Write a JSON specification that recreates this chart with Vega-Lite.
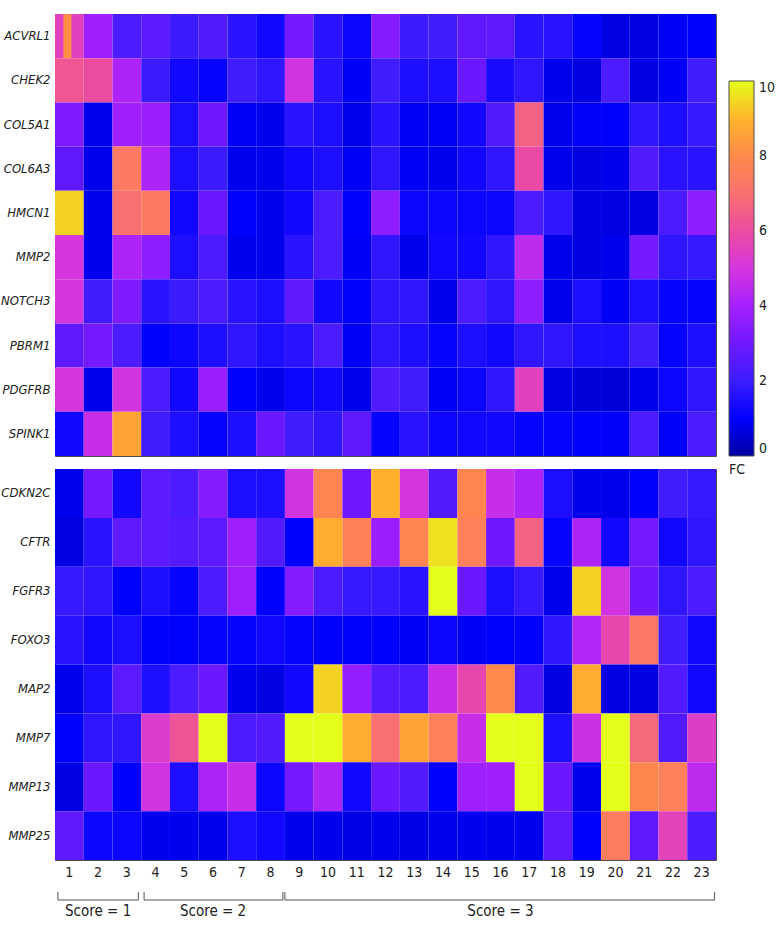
{
 "$schema": "https://vega.github.io/schema/vega-lite/v6.json",
 "padding": {"left": 0, "top": 13, "right": 5, "bottom": 5},
 "config": {
  "font": "DejaVu Sans Condensed, DejaVu Sans, sans-serif",
  "view": {"stroke": "#4d4d4d", "strokeWidth": 1},
  "axis": {"labelFontSize": 14, "labelColor": "#222222", "ticks": false, "domain": false, "title": null, "grid": false},
  "concat": {"spacing": 11}
 },
 "datasets": {
  "top": [
{"gene":"ACVRL1","col":1,"FC":5.5},{"gene":"ACVRL1","col":2,"FC":3.9},{"gene":"ACVRL1","col":3,"FC":2.3},{"gene":"ACVRL1","col":4,"FC":2.6},{"gene":"ACVRL1","col":5,"FC":2.0},{"gene":"ACVRL1","col":6,"FC":2.4},{"gene":"ACVRL1","col":7,"FC":1.7},{"gene":"ACVRL1","col":8,"FC":1.3},{"gene":"ACVRL1","col":9,"FC":3.1},{"gene":"ACVRL1","col":10,"FC":1.7},{"gene":"ACVRL1","col":11,"FC":1.2},{"gene":"ACVRL1","col":12,"FC":3.4},{"gene":"ACVRL1","col":13,"FC":2.0},{"gene":"ACVRL1","col":14,"FC":2.1},{"gene":"ACVRL1","col":15,"FC":2.7},{"gene":"ACVRL1","col":16,"FC":2.7},{"gene":"ACVRL1","col":17,"FC":1.7},{"gene":"ACVRL1","col":18,"FC":1.7},{"gene":"ACVRL1","col":19,"FC":1.1},{"gene":"ACVRL1","col":20,"FC":0.7},{"gene":"ACVRL1","col":21,"FC":0.7},{"gene":"ACVRL1","col":22,"FC":0.9},{"gene":"ACVRL1","col":23,"FC":1.0},
{"gene":"CHEK2","col":1,"FC":6.3},{"gene":"CHEK2","col":2,"FC":6.0},{"gene":"CHEK2","col":3,"FC":4.2},{"gene":"CHEK2","col":4,"FC":2.0},{"gene":"CHEK2","col":5,"FC":1.3},{"gene":"CHEK2","col":6,"FC":1.1},{"gene":"CHEK2","col":7,"FC":2.1},{"gene":"CHEK2","col":8,"FC":1.8},{"gene":"CHEK2","col":9,"FC":4.9},{"gene":"CHEK2","col":10,"FC":1.7},{"gene":"CHEK2","col":11,"FC":0.9},{"gene":"CHEK2","col":12,"FC":2.1},{"gene":"CHEK2","col":13,"FC":1.5},{"gene":"CHEK2","col":14,"FC":1.5},{"gene":"CHEK2","col":15,"FC":2.9},{"gene":"CHEK2","col":16,"FC":1.4},{"gene":"CHEK2","col":17,"FC":1.8},{"gene":"CHEK2","col":18,"FC":0.8},{"gene":"CHEK2","col":19,"FC":0.7},{"gene":"CHEK2","col":20,"FC":2.3},{"gene":"CHEK2","col":21,"FC":0.7},{"gene":"CHEK2","col":22,"FC":0.9},{"gene":"CHEK2","col":23,"FC":2.1},
{"gene":"COL5A1","col":1,"FC":3.3},{"gene":"COL5A1","col":2,"FC":0.8},{"gene":"COL5A1","col":3,"FC":3.9},{"gene":"COL5A1","col":4,"FC":3.8},{"gene":"COL5A1","col":5,"FC":1.5},{"gene":"COL5A1","col":6,"FC":3.0},{"gene":"COL5A1","col":7,"FC":0.9},{"gene":"COL5A1","col":8,"FC":0.8},{"gene":"COL5A1","col":9,"FC":1.7},{"gene":"COL5A1","col":10,"FC":1.5},{"gene":"COL5A1","col":11,"FC":0.8},{"gene":"COL5A1","col":12,"FC":1.7},{"gene":"COL5A1","col":13,"FC":0.9},{"gene":"COL5A1","col":14,"FC":0.9},{"gene":"COL5A1","col":15,"FC":1.3},{"gene":"COL5A1","col":16,"FC":2.4},{"gene":"COL5A1","col":17,"FC":6.6},{"gene":"COL5A1","col":18,"FC":0.8},{"gene":"COL5A1","col":19,"FC":0.95},{"gene":"COL5A1","col":20,"FC":1.0},{"gene":"COL5A1","col":21,"FC":1.8},{"gene":"COL5A1","col":22,"FC":1.5},{"gene":"COL5A1","col":23,"FC":1.9},
{"gene":"COL6A3","col":1,"FC":2.7},{"gene":"COL6A3","col":2,"FC":0.8},{"gene":"COL6A3","col":3,"FC":7.4},{"gene":"COL6A3","col":4,"FC":4.2},{"gene":"COL6A3","col":5,"FC":1.5},{"gene":"COL6A3","col":6,"FC":2.0},{"gene":"COL6A3","col":7,"FC":0.85},{"gene":"COL6A3","col":8,"FC":0.8},{"gene":"COL6A3","col":9,"FC":1.3},{"gene":"COL6A3","col":10,"FC":1.5},{"gene":"COL6A3","col":11,"FC":0.9},{"gene":"COL6A3","col":12,"FC":1.8},{"gene":"COL6A3","col":13,"FC":0.9},{"gene":"COL6A3","col":14,"FC":0.8},{"gene":"COL6A3","col":15,"FC":1.3},{"gene":"COL6A3","col":16,"FC":1.8},{"gene":"COL6A3","col":17,"FC":5.9},{"gene":"COL6A3","col":18,"FC":0.8},{"gene":"COL6A3","col":19,"FC":0.7},{"gene":"COL6A3","col":20,"FC":0.8},{"gene":"COL6A3","col":21,"FC":2.4},{"gene":"COL6A3","col":22,"FC":1.7},{"gene":"COL6A3","col":23,"FC":1.7},
{"gene":"HMCN1","col":1,"FC":9.4},{"gene":"HMCN1","col":2,"FC":0.8},{"gene":"HMCN1","col":3,"FC":7.0},{"gene":"HMCN1","col":4,"FC":7.4},{"gene":"HMCN1","col":5,"FC":1.3},{"gene":"HMCN1","col":6,"FC":2.9},{"gene":"HMCN1","col":7,"FC":1.0},{"gene":"HMCN1","col":8,"FC":0.8},{"gene":"HMCN1","col":9,"FC":1.3},{"gene":"HMCN1","col":10,"FC":2.3},{"gene":"HMCN1","col":11,"FC":1.0},{"gene":"HMCN1","col":12,"FC":3.6},{"gene":"HMCN1","col":13,"FC":1.2},{"gene":"HMCN1","col":14,"FC":1.2},{"gene":"HMCN1","col":15,"FC":1.2},{"gene":"HMCN1","col":16,"FC":1.2},{"gene":"HMCN1","col":17,"FC":2.3},{"gene":"HMCN1","col":18,"FC":1.8},{"gene":"HMCN1","col":19,"FC":0.7},{"gene":"HMCN1","col":20,"FC":0.7},{"gene":"HMCN1","col":21,"FC":0.7},{"gene":"HMCN1","col":22,"FC":2.3},{"gene":"HMCN1","col":23,"FC":3.6},
{"gene":"MMP2","col":1,"FC":5.0},{"gene":"MMP2","col":2,"FC":0.85},{"gene":"MMP2","col":3,"FC":4.2},{"gene":"MMP2","col":4,"FC":3.6},{"gene":"MMP2","col":5,"FC":1.5},{"gene":"MMP2","col":6,"FC":2.3},{"gene":"MMP2","col":7,"FC":0.85},{"gene":"MMP2","col":8,"FC":0.8},{"gene":"MMP2","col":9,"FC":1.7},{"gene":"MMP2","col":10,"FC":2.3},{"gene":"MMP2","col":11,"FC":0.9},{"gene":"MMP2","col":12,"FC":1.8},{"gene":"MMP2","col":13,"FC":0.8},{"gene":"MMP2","col":14,"FC":1.3},{"gene":"MMP2","col":15,"FC":1.3},{"gene":"MMP2","col":16,"FC":1.8},{"gene":"MMP2","col":17,"FC":4.5},{"gene":"MMP2","col":18,"FC":0.8},{"gene":"MMP2","col":19,"FC":0.7},{"gene":"MMP2","col":20,"FC":0.8},{"gene":"MMP2","col":21,"FC":3.1},{"gene":"MMP2","col":22,"FC":1.8},{"gene":"MMP2","col":23,"FC":1.9},
{"gene":"NOTCH3","col":1,"FC":5.0},{"gene":"NOTCH3","col":2,"FC":2.1},{"gene":"NOTCH3","col":3,"FC":3.3},{"gene":"NOTCH3","col":4,"FC":1.7},{"gene":"NOTCH3","col":5,"FC":2.0},{"gene":"NOTCH3","col":6,"FC":2.3},{"gene":"NOTCH3","col":7,"FC":1.7},{"gene":"NOTCH3","col":8,"FC":1.5},{"gene":"NOTCH3","col":9,"FC":2.7},{"gene":"NOTCH3","col":10,"FC":1.3},{"gene":"NOTCH3","col":11,"FC":1.0},{"gene":"NOTCH3","col":12,"FC":1.8},{"gene":"NOTCH3","col":13,"FC":1.8},{"gene":"NOTCH3","col":14,"FC":0.8},{"gene":"NOTCH3","col":15,"FC":2.3},{"gene":"NOTCH3","col":16,"FC":1.8},{"gene":"NOTCH3","col":17,"FC":3.6},{"gene":"NOTCH3","col":18,"FC":0.8},{"gene":"NOTCH3","col":19,"FC":1.5},{"gene":"NOTCH3","col":20,"FC":0.9},{"gene":"NOTCH3","col":21,"FC":1.5},{"gene":"NOTCH3","col":22,"FC":1.1},{"gene":"NOTCH3","col":23,"FC":1.1},
{"gene":"PBRM1","col":1,"FC":2.7},{"gene":"PBRM1","col":2,"FC":3.1},{"gene":"PBRM1","col":3,"FC":2.3},{"gene":"PBRM1","col":4,"FC":1.0},{"gene":"PBRM1","col":5,"FC":1.2},{"gene":"PBRM1","col":6,"FC":1.5},{"gene":"PBRM1","col":7,"FC":1.8},{"gene":"PBRM1","col":8,"FC":1.5},{"gene":"PBRM1","col":9,"FC":1.7},{"gene":"PBRM1","col":10,"FC":2.3},{"gene":"PBRM1","col":11,"FC":0.9},{"gene":"PBRM1","col":12,"FC":1.8},{"gene":"PBRM1","col":13,"FC":1.5},{"gene":"PBRM1","col":14,"FC":1.1},{"gene":"PBRM1","col":15,"FC":1.5},{"gene":"PBRM1","col":16,"FC":1.3},{"gene":"PBRM1","col":17,"FC":1.8},{"gene":"PBRM1","col":18,"FC":1.8},{"gene":"PBRM1","col":19,"FC":1.5},{"gene":"PBRM1","col":20,"FC":1.5},{"gene":"PBRM1","col":21,"FC":2.1},{"gene":"PBRM1","col":22,"FC":1.1},{"gene":"PBRM1","col":23,"FC":1.5},
{"gene":"PDGFRB","col":1,"FC":5.0},{"gene":"PDGFRB","col":2,"FC":0.8},{"gene":"PDGFRB","col":3,"FC":4.9},{"gene":"PDGFRB","col":4,"FC":2.3},{"gene":"PDGFRB","col":5,"FC":1.3},{"gene":"PDGFRB","col":6,"FC":3.8},{"gene":"PDGFRB","col":7,"FC":1.0},{"gene":"PDGFRB","col":8,"FC":0.8},{"gene":"PDGFRB","col":9,"FC":1.2},{"gene":"PDGFRB","col":10,"FC":1.3},{"gene":"PDGFRB","col":11,"FC":0.8},{"gene":"PDGFRB","col":12,"FC":2.4},{"gene":"PDGFRB","col":13,"FC":2.1},{"gene":"PDGFRB","col":14,"FC":0.9},{"gene":"PDGFRB","col":15,"FC":1.2},{"gene":"PDGFRB","col":16,"FC":1.8},{"gene":"PDGFRB","col":17,"FC":5.5},{"gene":"PDGFRB","col":18,"FC":0.7},{"gene":"PDGFRB","col":19,"FC":0.6},{"gene":"PDGFRB","col":20,"FC":0.6},{"gene":"PDGFRB","col":21,"FC":0.8},{"gene":"PDGFRB","col":22,"FC":1.2},{"gene":"PDGFRB","col":23,"FC":1.8},
{"gene":"SPINK1","col":1,"FC":1.3},{"gene":"SPINK1","col":2,"FC":4.7},{"gene":"SPINK1","col":3,"FC":8.6},{"gene":"SPINK1","col":4,"FC":2.1},{"gene":"SPINK1","col":5,"FC":1.5},{"gene":"SPINK1","col":6,"FC":1.1},{"gene":"SPINK1","col":7,"FC":1.5},{"gene":"SPINK1","col":8,"FC":2.9},{"gene":"SPINK1","col":9,"FC":2.1},{"gene":"SPINK1","col":10,"FC":1.8},{"gene":"SPINK1","col":11,"FC":2.7},{"gene":"SPINK1","col":12,"FC":1.1},{"gene":"SPINK1","col":13,"FC":1.7},{"gene":"SPINK1","col":14,"FC":1.2},{"gene":"SPINK1","col":15,"FC":1.3},{"gene":"SPINK1","col":16,"FC":1.3},{"gene":"SPINK1","col":17,"FC":1.1},{"gene":"SPINK1","col":18,"FC":1.1},{"gene":"SPINK1","col":19,"FC":1.0},{"gene":"SPINK1","col":20,"FC":0.95},{"gene":"SPINK1","col":21,"FC":2.3},{"gene":"SPINK1","col":22,"FC":0.95},{"gene":"SPINK1","col":23,"FC":2.3}
  ],
  "bottom": [
{"gene":"CDKN2C","col":1,"FC":0.8},{"gene":"CDKN2C","col":2,"FC":3.1},{"gene":"CDKN2C","col":3,"FC":1.3},{"gene":"CDKN2C","col":4,"FC":2.6},{"gene":"CDKN2C","col":5,"FC":2.3},{"gene":"CDKN2C","col":6,"FC":3.4},{"gene":"CDKN2C","col":7,"FC":1.5},{"gene":"CDKN2C","col":8,"FC":1.5},{"gene":"CDKN2C","col":9,"FC":4.9},{"gene":"CDKN2C","col":10,"FC":7.8},{"gene":"CDKN2C","col":11,"FC":3.0},{"gene":"CDKN2C","col":12,"FC":8.9},{"gene":"CDKN2C","col":13,"FC":5.0},{"gene":"CDKN2C","col":14,"FC":2.4},{"gene":"CDKN2C","col":15,"FC":7.8},{"gene":"CDKN2C","col":16,"FC":4.7},{"gene":"CDKN2C","col":17,"FC":4.2},{"gene":"CDKN2C","col":18,"FC":1.5},{"gene":"CDKN2C","col":19,"FC":0.8},{"gene":"CDKN2C","col":20,"FC":0.8},{"gene":"CDKN2C","col":21,"FC":1.0},{"gene":"CDKN2C","col":22,"FC":2.1},{"gene":"CDKN2C","col":23,"FC":1.9},
{"gene":"CFTR","col":1,"FC":0.7},{"gene":"CFTR","col":2,"FC":1.7},{"gene":"CFTR","col":3,"FC":2.7},{"gene":"CFTR","col":4,"FC":2.6},{"gene":"CFTR","col":5,"FC":2.5},{"gene":"CFTR","col":6,"FC":2.6},{"gene":"CFTR","col":7,"FC":3.9},{"gene":"CFTR","col":8,"FC":2.4},{"gene":"CFTR","col":9,"FC":1.0},{"gene":"CFTR","col":10,"FC":8.8},{"gene":"CFTR","col":11,"FC":7.7},{"gene":"CFTR","col":12,"FC":3.8},{"gene":"CFTR","col":13,"FC":7.8},{"gene":"CFTR","col":14,"FC":9.6},{"gene":"CFTR","col":15,"FC":7.6},{"gene":"CFTR","col":16,"FC":3.0},{"gene":"CFTR","col":17,"FC":6.6},{"gene":"CFTR","col":18,"FC":1.1},{"gene":"CFTR","col":19,"FC":4.2},{"gene":"CFTR","col":20,"FC":1.3},{"gene":"CFTR","col":21,"FC":3.1},{"gene":"CFTR","col":22,"FC":1.3},{"gene":"CFTR","col":23,"FC":1.8},
{"gene":"FGFR3","col":1,"FC":1.9},{"gene":"FGFR3","col":2,"FC":1.8},{"gene":"FGFR3","col":3,"FC":1.0},{"gene":"FGFR3","col":4,"FC":1.5},{"gene":"FGFR3","col":5,"FC":1.1},{"gene":"FGFR3","col":6,"FC":2.3},{"gene":"FGFR3","col":7,"FC":3.9},{"gene":"FGFR3","col":8,"FC":1.0},{"gene":"FGFR3","col":9,"FC":3.4},{"gene":"FGFR3","col":10,"FC":2.3},{"gene":"FGFR3","col":11,"FC":1.9},{"gene":"FGFR3","col":12,"FC":1.9},{"gene":"FGFR3","col":13,"FC":1.7},{"gene":"FGFR3","col":14,"FC":10},{"gene":"FGFR3","col":15,"FC":2.9},{"gene":"FGFR3","col":16,"FC":1.5},{"gene":"FGFR3","col":17,"FC":1.9},{"gene":"FGFR3","col":18,"FC":0.8},{"gene":"FGFR3","col":19,"FC":9.4},{"gene":"FGFR3","col":20,"FC":4.9},{"gene":"FGFR3","col":21,"FC":3.0},{"gene":"FGFR3","col":22,"FC":1.8},{"gene":"FGFR3","col":23,"FC":2.3},
{"gene":"FOXO3","col":1,"FC":1.7},{"gene":"FOXO3","col":2,"FC":1.3},{"gene":"FOXO3","col":3,"FC":1.5},{"gene":"FOXO3","col":4,"FC":1.0},{"gene":"FOXO3","col":5,"FC":1.0},{"gene":"FOXO3","col":6,"FC":1.1},{"gene":"FOXO3","col":7,"FC":1.1},{"gene":"FOXO3","col":8,"FC":1.3},{"gene":"FOXO3","col":9,"FC":1.1},{"gene":"FOXO3","col":10,"FC":1.0},{"gene":"FOXO3","col":11,"FC":1.0},{"gene":"FOXO3","col":12,"FC":1.0},{"gene":"FOXO3","col":13,"FC":0.9},{"gene":"FOXO3","col":14,"FC":1.2},{"gene":"FOXO3","col":15,"FC":0.9},{"gene":"FOXO3","col":16,"FC":1.0},{"gene":"FOXO3","col":17,"FC":1.0},{"gene":"FOXO3","col":18,"FC":1.8},{"gene":"FOXO3","col":19,"FC":4.3},{"gene":"FOXO3","col":20,"FC":5.8},{"gene":"FOXO3","col":21,"FC":7.3},{"gene":"FOXO3","col":22,"FC":2.1},{"gene":"FOXO3","col":23,"FC":1.3},
{"gene":"MAP2","col":1,"FC":0.8},{"gene":"MAP2","col":2,"FC":1.5},{"gene":"MAP2","col":3,"FC":2.6},{"gene":"MAP2","col":4,"FC":1.5},{"gene":"MAP2","col":5,"FC":2.3},{"gene":"MAP2","col":6,"FC":2.9},{"gene":"MAP2","col":7,"FC":0.85},{"gene":"MAP2","col":8,"FC":0.7},{"gene":"MAP2","col":9,"FC":1.3},{"gene":"MAP2","col":10,"FC":9.4},{"gene":"MAP2","col":11,"FC":3.7},{"gene":"MAP2","col":12,"FC":2.5},{"gene":"MAP2","col":13,"FC":2.3},{"gene":"MAP2","col":14,"FC":4.7},{"gene":"MAP2","col":15,"FC":5.8},{"gene":"MAP2","col":16,"FC":8.0},{"gene":"MAP2","col":17,"FC":2.4},{"gene":"MAP2","col":18,"FC":0.7},{"gene":"MAP2","col":19,"FC":8.8},{"gene":"MAP2","col":20,"FC":0.7},{"gene":"MAP2","col":21,"FC":0.7},{"gene":"MAP2","col":22,"FC":2.4},{"gene":"MAP2","col":23,"FC":1.3},
{"gene":"MMP7","col":1,"FC":1.0},{"gene":"MMP7","col":2,"FC":1.8},{"gene":"MMP7","col":3,"FC":1.8},{"gene":"MMP7","col":4,"FC":5.3},{"gene":"MMP7","col":5,"FC":6.2},{"gene":"MMP7","col":6,"FC":10},{"gene":"MMP7","col":7,"FC":2.3},{"gene":"MMP7","col":8,"FC":2.4},{"gene":"MMP7","col":9,"FC":10},{"gene":"MMP7","col":10,"FC":10},{"gene":"MMP7","col":11,"FC":8.8},{"gene":"MMP7","col":12,"FC":7.0},{"gene":"MMP7","col":13,"FC":8.6},{"gene":"MMP7","col":14,"FC":7.6},{"gene":"MMP7","col":15,"FC":4.7},{"gene":"MMP7","col":16,"FC":10},{"gene":"MMP7","col":17,"FC":10},{"gene":"MMP7","col":18,"FC":1.5},{"gene":"MMP7","col":19,"FC":4.8},{"gene":"MMP7","col":20,"FC":10},{"gene":"MMP7","col":21,"FC":6.8},{"gene":"MMP7","col":22,"FC":2.4},{"gene":"MMP7","col":23,"FC":5.4},
{"gene":"MMP13","col":1,"FC":0.7},{"gene":"MMP13","col":2,"FC":2.9},{"gene":"MMP13","col":3,"FC":1.0},{"gene":"MMP13","col":4,"FC":4.9},{"gene":"MMP13","col":5,"FC":1.5},{"gene":"MMP13","col":6,"FC":4.2},{"gene":"MMP13","col":7,"FC":4.7},{"gene":"MMP13","col":8,"FC":1.2},{"gene":"MMP13","col":9,"FC":3.1},{"gene":"MMP13","col":10,"FC":4.2},{"gene":"MMP13","col":11,"FC":1.3},{"gene":"MMP13","col":12,"FC":2.9},{"gene":"MMP13","col":13,"FC":2.4},{"gene":"MMP13","col":14,"FC":1.0},{"gene":"MMP13","col":15,"FC":3.9},{"gene":"MMP13","col":16,"FC":3.9},{"gene":"MMP13","col":17,"FC":10},{"gene":"MMP13","col":18,"FC":2.9},{"gene":"MMP13","col":19,"FC":0.85},{"gene":"MMP13","col":20,"FC":10},{"gene":"MMP13","col":21,"FC":7.9},{"gene":"MMP13","col":22,"FC":7.6},{"gene":"MMP13","col":23,"FC":4.5},
{"gene":"MMP25","col":1,"FC":2.7},{"gene":"MMP25","col":2,"FC":1.2},{"gene":"MMP25","col":3,"FC":1.2},{"gene":"MMP25","col":4,"FC":0.85},{"gene":"MMP25","col":5,"FC":0.85},{"gene":"MMP25","col":6,"FC":0.85},{"gene":"MMP25","col":7,"FC":1.5},{"gene":"MMP25","col":8,"FC":1.3},{"gene":"MMP25","col":9,"FC":0.8},{"gene":"MMP25","col":10,"FC":0.8},{"gene":"MMP25","col":11,"FC":0.75},{"gene":"MMP25","col":12,"FC":0.8},{"gene":"MMP25","col":13,"FC":0.75},{"gene":"MMP25","col":14,"FC":0.8},{"gene":"MMP25","col":15,"FC":0.85},{"gene":"MMP25","col":16,"FC":0.85},{"gene":"MMP25","col":17,"FC":0.85},{"gene":"MMP25","col":18,"FC":2.7},{"gene":"MMP25","col":19,"FC":1.0},{"gene":"MMP25","col":20,"FC":7.5},{"gene":"MMP25","col":21,"FC":2.7},{"gene":"MMP25","col":22,"FC":5.6},{"gene":"MMP25","col":23,"FC":2.3}
  ],
  "stripe": [{"gene":"ACVRL1","col":1,"FC":8.1}],
  "scores": [
   {"score":"Score = 1","start":0.6,"end":3.4,"mid":2.0},
   {"score":"Score = 2","start":3.6,"end":8.43,"mid":6.0},
   {"score":"Score = 3","start":8.5,"end":23.45,"mid":16.0}
  ]
 },
 "vconcat": [
  {
   "width": 661, "height": 442,
   "layer": [
    {
     "data": {"name": "top"},
     "mark": {"type": "rect", "strokeWidth": 0},
     "encoding": {
      "x": {"field": "col", "type": "ordinal", "axis": null},
      "y": {"field": "gene", "type": "nominal", "scale": {"domain": ["ACVRL1","CHEK2","COL5A1","COL6A3","HMCN1","MMP2","NOTCH3","PBRM1","PDGFRB","SPINK1"]}, "axis": {"labelFontStyle": "italic", "labelPadding": 5, "labelFontSize": 13}},
      "color": {"field": "FC", "type": "quantitative",
       "scale": {"domain": [0,1,2,3,4,5,6,7,8,9,10], "range": ["#0000a0","#0000ff","#3c1cff","#7018ff","#a420ff","#d535dd","#ec4ca0","#f87070","#ff8a4a","#ffb42a","#e4ff1a"], "interpolate": "rgb"},
       "legend": {"title": "FC", "orient": "none", "legendX": 674, "legendY": 67, "direction": "vertical", "gradientLength": 375, "gradientThickness": 25, "gradientStrokeColor": "#4d4d4d", "gradientStrokeWidth": 1, "values": [0,2,4,6,8,10], "labelFontSize": 14, "labelColor": "#222222", "labelOffset": 5, "titleOrient": "bottom", "titleFontSize": 14, "titleFontWeight": "normal", "titleColor": "#222222", "titlePadding": 6, "titleAnchor": "start"}
      }
     }
    },
    {
     "data": {"name": "stripe"},
     "mark": {"type": "tick", "orient": "vertical", "thickness": 8, "size": 44, "opacity": 1, "xOffset": -2},
     "encoding": {
      "x": {"field": "col", "type": "ordinal"},
      "y": {"field": "gene", "type": "nominal"},
      "color": {"field": "FC", "type": "quantitative"}
     }
    }
   ]
  },
  {
   "width": 661, "height": 391,
   "data": {"name": "bottom"},
   "mark": {"type": "rect", "strokeWidth": 0},
   "encoding": {
    "x": {"field": "col", "type": "ordinal", "axis": {"labelAngle": 0, "labelPadding": 5, "labelFontSize": 14}},
    "y": {"field": "gene", "type": "nominal", "scale": {"domain": ["CDKN2C","CFTR","FGFR3","FOXO3","MAP2","MMP7","MMP13","MMP25"]}, "axis": {"labelFontStyle": "italic", "labelPadding": 5, "labelFontSize": 13}},
    "color": {"field": "FC", "type": "quantitative",
     "scale": {"domain": [0,1,2,3,4,5,6,7,8,9,10], "range": ["#0000a0","#0000ff","#3c1cff","#7018ff","#a420ff","#d535dd","#ec4ca0","#f87070","#ff8a4a","#ffb42a","#e4ff1a"], "interpolate": "rgb"},
     "legend": {"title": "FC", "orient": "none", "legendX": 674, "legendY": 67, "direction": "vertical", "gradientLength": 375, "gradientThickness": 25, "gradientStrokeColor": "#4d4d4d", "gradientStrokeWidth": 1, "values": [0,2,4,6,8,10], "labelFontSize": 14, "labelColor": "#222222", "labelOffset": 5, "titleOrient": "bottom", "titleFontSize": 14, "titleFontWeight": "normal", "titleColor": "#222222", "titlePadding": 6, "titleAnchor": "start"}
    }
   }
  },
  {
   "width": 661, "height": 30,
   "view": {"stroke": null},
   "data": {"name": "scores"},
   "layer": [
    {"mark": {"type": "rule", "color": "#555555", "strokeWidth": 1},
     "encoding": {
      "x": {"field": "start", "type": "quantitative", "scale": {"domain": [0.5, 23.5], "nice": false, "zero": false}, "axis": null},
      "x2": {"field": "end"},
      "y": {"datum": -6, "type": "quantitative", "scale": {"domain": [0, 30], "reverse": true, "nice": false, "zero": false}, "axis": null}
     }},
    {"mark": {"type": "rule", "color": "#555555", "strokeWidth": 1},
     "encoding": {
      "x": {"field": "start", "type": "quantitative"},
      "y": {"datum": -14, "type": "quantitative"},
      "y2": {"datum": -6}
     }},
    {"mark": {"type": "rule", "color": "#555555", "strokeWidth": 1},
     "encoding": {
      "x": {"field": "end", "type": "quantitative"},
      "y": {"datum": -14, "type": "quantitative"},
      "y2": {"datum": -6}
     }},
    {"mark": {"type": "text", "fontSize": 15, "color": "#222222", "baseline": "middle", "align": "center"},
     "encoding": {
      "x": {"field": "mid", "type": "quantitative"},
      "y": {"datum": 5, "type": "quantitative"},
      "text": {"field": "score"}
     }}
   ]
  }
 ],
 "resolve": {"scale": {"x": "independent", "y": "independent", "color": "shared"}, "legend": {"color": "shared"}}
}
